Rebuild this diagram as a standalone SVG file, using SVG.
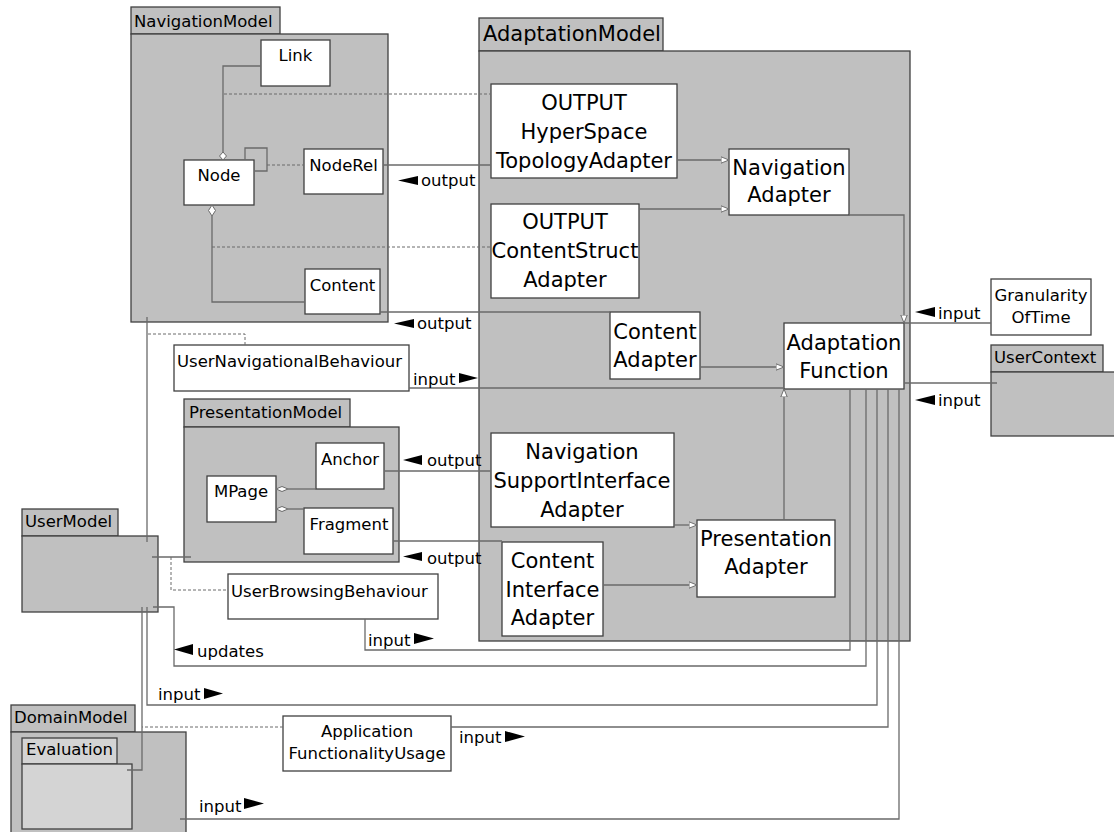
<svg xmlns="http://www.w3.org/2000/svg" width="1114" height="832" viewBox="0 0 1114 832">
<style>
.pkg{fill:#c0c0c0;stroke:#404040;stroke-width:1.3}
.ev{fill:#d4d4d4;stroke:#404040;stroke-width:1.3}
.box{fill:#fff;stroke:#404040;stroke-width:1.3}
.ln{fill:none;stroke:#6a6a6a;stroke-width:1.3}
.dash{fill:none;stroke:#6a6a6a;stroke-width:1;stroke-dasharray:3 2}
.dia{fill:#fff;stroke:#6a6a6a;stroke-width:1}
.s{font-family:"DejaVu Sans",sans-serif;font-size:16.5px;fill:#000}
.b{font-family:"DejaVu Sans",sans-serif;font-size:21px;fill:#000;text-anchor:middle}
.c{text-anchor:middle}
.tri{fill:#000}
</style>
<defs>
<marker id="hollow" viewBox="0 0 10 10" refX="10" refY="5" markerWidth="8" markerHeight="8" orient="auto" markerUnits="userSpaceOnUse">
<path d="M0,1 L10,5 L0,9 Z" fill="#fff" stroke="#6a6a6a" stroke-width="1.2"/>
</marker>
</defs>

<g id="NavigationModel">
<rect class="pkg" x="131" y="7" width="149" height="27"/>
<rect class="pkg" x="131" y="34" width="257" height="288"/>
<text class="s" x="134" y="27">NavigationModel</text>
<g id="Link"><rect class="box" x="261" y="40" width="69" height="46"/><text class="s c" x="295.5" y="61">Link</text></g>
<g id="Node"><rect class="box" x="184" y="160" width="70" height="45"/><text class="s c" x="219" y="181">Node</text></g>
<g id="NodeRel"><rect class="box" x="304" y="149" width="79" height="45"/><text class="s c" x="343.5" y="170.5">NodeRel</text></g>
<g id="Content"><rect class="box" x="305" y="269" width="75" height="45"/><text class="s c" x="342.5" y="290.5">Content</text></g>
</g>

<g id="AdaptationModel">
<rect class="pkg" x="479" y="18" width="184" height="33"/>
<rect class="pkg" x="479" y="51" width="431" height="590"/>
<text class="s" style="font-size:21px" x="483" y="41">AdaptationModel</text>
<g id="HyperSpaceTopologyAdapter"><rect class="box" x="491" y="84" width="186" height="94"/>
<text class="b" x="584" y="110">OUTPUT</text><text class="b" x="584" y="139">HyperSpace</text><text class="b" x="584" y="168">TopologyAdapter</text></g>
<g id="NavigationAdapter"><rect class="box" x="729" y="149" width="120" height="66"/>
<text class="b" x="789" y="175">Navigation</text><text class="b" x="789" y="202">Adapter</text></g>
<g id="ContentStructAdapter"><rect class="box" x="491" y="204" width="148" height="94"/>
<text class="b" x="565" y="229">OUTPUT</text><text class="b" x="565" y="258">ContentStruct</text><text class="b" x="565" y="287">Adapter</text></g>
<g id="ContentAdapter"><rect class="box" x="610" y="312" width="90" height="67"/>
<text class="b" x="655" y="339">Content</text><text class="b" x="655" y="367">Adapter</text></g>
<g id="AdaptationFunction"><rect class="box" x="784" y="323" width="120" height="66"/>
<text class="b" x="844" y="350">Adaptation</text><text class="b" x="844" y="378">Function</text></g>
<g id="NavigationSupportInterfaceAdapter"><rect class="box" x="491" y="433" width="183" height="94"/>
<text class="b" x="582" y="459">Navigation</text><text class="b" x="582" y="488">SupportInterface</text><text class="b" x="582" y="517">Adapter</text></g>
<g id="ContentInterfaceAdapter"><rect class="box" x="502" y="542" width="101" height="94"/>
<text class="b" x="552.5" y="568">Content</text><text class="b" x="552.5" y="597">Interface</text><text class="b" x="552.5" y="625">Adapter</text></g>
<g id="PresentationAdapter"><rect class="box" x="697" y="520" width="138" height="77"/>
<text class="b" x="766" y="546">Presentation</text><text class="b" x="766" y="574">Adapter</text></g>
</g>

<g id="PresentationModel">
<rect class="pkg" x="184" y="399" width="166" height="28"/>
<rect class="pkg" x="184" y="427" width="215" height="135"/>
<text class="s" x="189" y="418">PresentationModel</text>
<g id="Anchor"><rect class="box" x="316" y="443" width="68" height="46"/><text class="s c" x="350" y="465">Anchor</text></g>
<g id="MPage"><rect class="box" x="207" y="476" width="69" height="46"/><text class="s c" x="241" y="497">MPage</text></g>
<g id="Fragment"><rect class="box" x="304" y="508" width="89" height="46"/><text class="s c" x="349" y="530">Fragment</text></g>
</g>

<g id="UserNavigationalBehaviour"><rect class="box" x="174" y="345" width="235" height="46"/><text class="s" x="177" y="367">UserNavigationalBehaviour</text></g>
<g id="UserBrowsingBehaviour"><rect class="box" x="228" y="574" width="210" height="45"/><text class="s" x="231" y="597">UserBrowsingBehaviour</text></g>
<g id="ApplicationFunctionalityUsage"><rect class="box" x="283" y="716" width="168" height="55"/>
<text class="s c" x="367" y="737">Application</text><text class="s c" x="367" y="759">FunctionalityUsage</text></g>
<g id="GranularityOfTime"><rect class="box" x="991" y="279" width="100" height="56"/>
<text class="s c" x="1041" y="301">Granularity</text><text class="s c" x="1041" y="323">OfTime</text></g>
<g id="UserContext">
<rect class="pkg" x="991" y="345" width="112" height="27"/>
<rect class="pkg" x="991" y="372" width="130" height="64"/>
<text class="s" x="994" y="363">UserContext</text>
</g>
<g id="UserModel">
<rect class="pkg" x="22" y="509" width="96" height="27"/>
<rect class="pkg" x="22" y="536" width="136" height="76"/>
<text class="s" x="25" y="527">UserModel</text>
</g>
<g id="DomainModel">
<rect class="pkg" x="11" y="705" width="124" height="27"/>
<rect class="pkg" x="11" y="732" width="175" height="110"/>
<text class="s" x="14" y="723">DomainModel</text>
<g id="Evaluation">
<rect class="ev" x="22" y="738" width="95" height="26"/>
<rect class="ev" x="22" y="764" width="110" height="65"/>
<text class="s" x="26" y="755">Evaluation</text>
</g>
</g>

<g id="connectors">
<path class="ln" d="M261,66 H223 V152"/>
<polygon class="dia" points="223,160 226.5,156 223,152 219.5,156"/>
<path class="ln" d="M245,160 V148 H267 V171 H254"/>
<path class="dash" d="M267,165 H304"/>
<polygon class="dia" points="212,205 215.5,210.5 212,216 208.5,210.5"/>
<path class="ln" d="M212,216 V302 H305"/>
<path class="dash" d="M224,94 H491"/>
<path class="dash" d="M212,247 H491"/>
<polygon class="dia" points="276,489 282,486.5 288,489 282,491.5"/>
<path class="ln" d="M288,489 H316"/>
<polygon class="dia" points="276,509 282,506.5 288,509 282,511.5"/>
<path class="ln" d="M288,509 H304"/>

<path class="ln" d="M383,165 H491"/>
<path class="ln" d="M380,312 H610"/>
<path class="ln" d="M677,160 H729" marker-end="url(#hollow)"/>
<path class="ln" d="M639,209 H729" marker-end="url(#hollow)"/>
<path class="ln" d="M849,215 H904 V323" marker-end="url(#hollow)"/>
<path class="ln" d="M991,323 H904"/>
<path class="ln" d="M997,383 H904"/>
<path class="ln" d="M700,367 H784" marker-end="url(#hollow)"/>
<path class="ln" d="M409,388 H784"/>
<path class="ln" d="M384,471 H491"/>
<path class="ln" d="M393,541 H502"/>
<path class="ln" d="M674,525 H697" marker-end="url(#hollow)"/>
<path class="ln" d="M603,585 H697" marker-end="url(#hollow)"/>
<path class="ln" d="M784,520 V389" marker-end="url(#hollow)"/>
<path class="ln" d="M850,389 V650 H365 V619"/>
<path class="ln" d="M866,389 V666 H174 V607 H153"/>
<path class="ln" d="M877,389 V705 H147 V607"/>
<path class="ln" d="M888,389 V727 H451"/>
<path class="ln" d="M899,389 V819 H180"/>
<path class="ln" d="M147,317 V542"/>
<path class="ln" d="M152,557 H191"/>
<path class="dash" d="M245,345 V334 H147"/>
<path class="dash" d="M171,557 V590 H228"/>
<path class="ln" d="M142,607 V770 H127"/>
<path class="dash" d="M283,727 H142"/>

<polygon class="tri" points="418,176 418,185 398,180.5"/><text class="s" x="421" y="186">output</text>
<polygon class="tri" points="414,319 414,328 394,323.5"/><text class="s" x="417" y="329">output</text>
<polygon class="tri" points="422,455 422,465 403,460"/><text class="s" x="427" y="466">output</text>
<polygon class="tri" points="422,552 422,561 403,556.5"/><text class="s" x="427" y="564">output</text>
<text class="s" x="413" y="385">input</text><polygon class="tri" points="459,373 459,383 478,378"/>
<polygon class="tri" points="935,307 935,317 915,312"/><text class="s" x="938" y="319">input</text>
<polygon class="tri" points="935,395 935,405 915,400"/><text class="s" x="938" y="406">input</text>
<text class="s" x="368" y="646">input</text><polygon class="tri" points="414,633 414,644 434,638.5"/>
<polygon class="tri" points="193,644 193,655 174,649.5"/><text class="s" x="197" y="657">updates</text>
<text class="s" x="158" y="700">input</text><polygon class="tri" points="204,688 204,699 223,693.5"/>
<text class="s" x="459" y="743">input</text><polygon class="tri" points="505,731 505,742 525,736.5"/>
<text class="s" x="199" y="812">input</text><polygon class="tri" points="244,798 244,809 264,803.5"/>
</g>
</svg>
